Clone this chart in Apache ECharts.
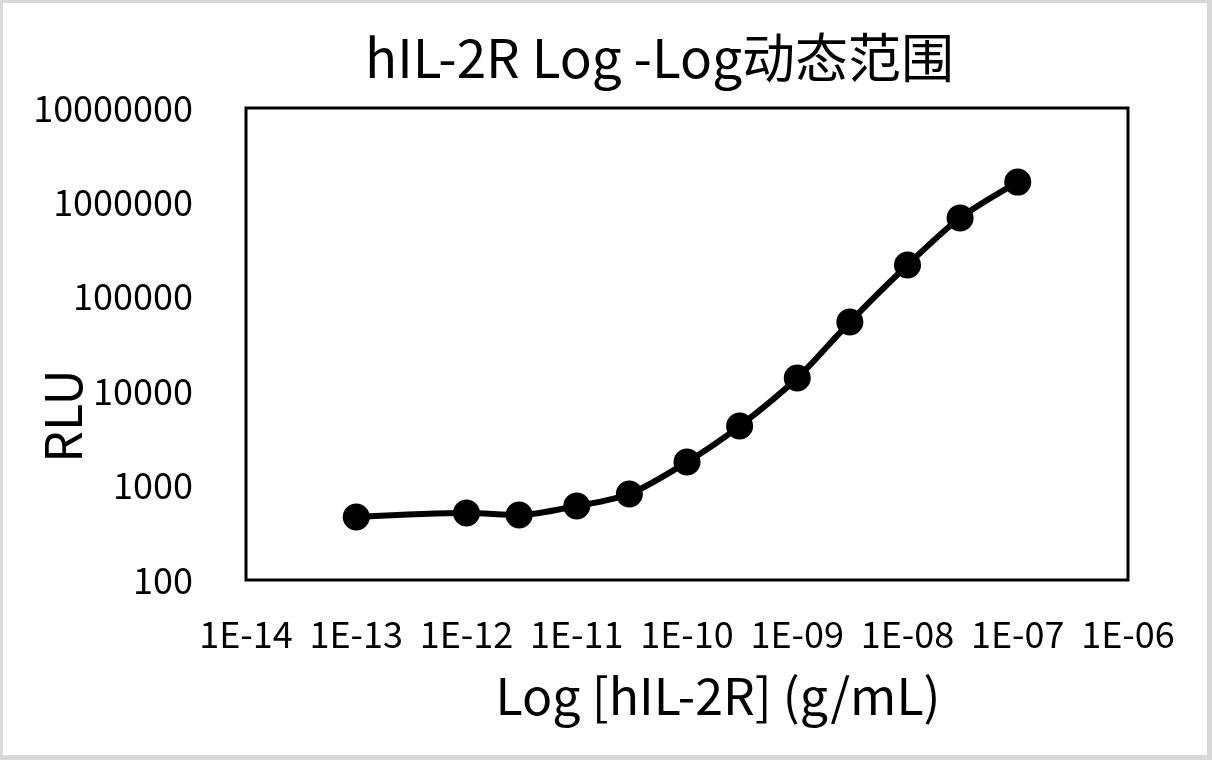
<!DOCTYPE html>
<html>
<head>
<meta charset="utf-8">
<script src="https://cdn.jsdelivr.net/npm/echarts@6/dist/echarts.min.js"></script>
<style>
html,body{margin:0;padding:0;background:#fff;}
#chart{width:1212px;height:760px;}
</style>
</head>
<body>
<div id="chart"></div>
<script>
// Concentrations (g/mL)
const concentrations = [1e-13, 1e-12, 3e-12, 1e-11, 3e-11, 1e-10, 3e-10, 1e-9, 3e-9, 1e-8, 3e-8, 1e-7];
// RLU values
const rluValues = [465, 512, 489, 608, 815, 1778, 4276, 13800, 54000, 217000, 684000, 1640000];

const titleText = 'hIL-2R Log -Log动态范围';
const xAxisName = 'Log [hIL-2R] (g/mL)';
const yAxisName = 'RLU';

const FONT = '"Noto Sans CJK SC", "Noto Sans", sans-serif';

function fmtX(v) {
  const e = Math.round(Math.log10(v));
  const a = Math.abs(e);
  return '1E' + (e < 0 ? '-' : '+') + (a < 10 ? '0' + a : String(a));
}

const chart = echarts.init(document.getElementById('chart'), null, {renderer: 'canvas'});
chart.setOption({
  backgroundColor: '#ffffff',
  animation: false,
  title: {
    text: titleText,
    left: 360,
    top: 26,
    textStyle: {fontFamily: FONT, fontSize: 53, fontWeight: 'normal', color: '#000'}
  },
  grid: {
    left: 246, right: 84, top: 108, bottom: 180,
    outerBoundsMode: 'none',
    show: true, borderColor: '#000', borderWidth: 3, backgroundColor: 'transparent'
  },
  xAxis: {
    type: 'log', logBase: 10, min: 1e-14, max: 1e-6,
    name: xAxisName, nameLocation: 'middle', nameGap: 91, nameMoveOverlap: false,
    nameTextStyle: {fontFamily: FONT, fontSize: 50, color: '#000', padding: [0, 0, 0, 62]},
    axisLine: {show: false}, axisTick: {show: false}, splitLine: {show: false},
    axisLabel: {formatter: fmtX, fontFamily: FONT, fontSize: 36, color: '#000', margin: 36}
  },
  yAxis: {
    type: 'log', logBase: 10, min: 100, max: 1e7,
    name: yAxisName, nameLocation: 'middle', nameGap: 158, nameMoveOverlap: false,
    nameTextStyle: {fontFamily: FONT, fontSize: 50, color: '#000', padding: [0, 144, 0, 0]},
    axisLine: {show: false}, axisTick: {show: false}, splitLine: {show: false},
    axisLabel: {formatter: v => String(Math.round(v)), fontFamily: FONT, fontSize: 36, color: '#000', margin: 53}
  },
  series: [{
    type: 'line',
    data: concentrations.map((c, i) => [c, rluValues[i]]),
    smooth: 0.3,
    symbol: 'circle', symbolSize: 27,
    lineStyle: {color: '#000', width: 6},
    itemStyle: {color: '#000'}
  }],
  graphic: [
    {type: 'rect', shape: {x: 0, y: 0, width: 1212, height: 3}, style: {fill: '#d9d9d9'}},
    {type: 'rect', shape: {x: 0, y: 755, width: 1212, height: 5}, style: {fill: '#d9d9d9'}},
    {type: 'rect', shape: {x: 0, y: 0, width: 3, height: 760}, style: {fill: '#d9d9d9'}},
    {type: 'rect', shape: {x: 1207, y: 0, width: 5, height: 760}, style: {fill: '#d9d9d9'}}
  ]
});
</script>
</body>
</html>
